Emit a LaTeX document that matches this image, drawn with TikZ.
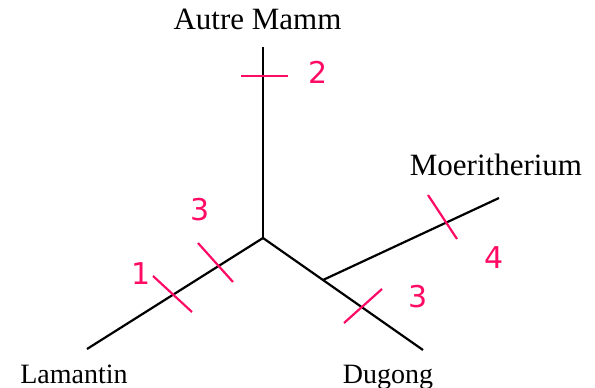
\documentclass[tikz,border=0pt]{standalone}
\usepackage{fontspec}
\setmainfont{Liberation Serif}
\newfontfamily\numfont{DejaVu Sans}
\usetikzlibrary{calc}
\definecolor{tickred}{RGB}{255,10,100}
\tikzset{
  branch/.style={line width=2.2pt, black},
  tickmark/.style={line width=2.2pt, tickred},
  leaflabel/.style={anchor=base, inner sep=0pt},
  bigleaf/.style={leaflabel, font=\fontsize{31}{36}\selectfont},
  smallleaf/.style={leaflabel, font=\fontsize{28}{33}\selectfont},
  numlabel/.style={inner sep=0pt, text=tickred, font=\numfont\fontsize{30}{35}\selectfont}
}
\begin{document}
\begin{tikzpicture}[x=1pt,y=-1pt]
\useasboundingbox (0,0) rectangle (595,388);
% tree points
\coordinate (C) at (263,238);
\coordinate (A) at (263,47);
\coordinate (L) at (87,349);
\coordinate (D) at (423,350);
\coordinate (M) at (499,198);
\coordinate (J) at ($(C)!0.375!(D)$);
% branches
\draw[branch] (A) -- (C);
\draw[branch] (L) -- (C);
\draw[branch] (C) -- (D);
\draw[branch] (J) -- (M);
% ticks
\draw[tickmark] (241,76) -- (288,76);
\draw[tickmark] (153,276) -- (192,312);
\draw[tickmark] (198,243) -- (233,282);
\draw[tickmark] (428,195) -- (457,239);
\draw[tickmark] (344,323) -- (382,289);
% leaf labels
\node[bigleaf] (tA) at (257.5,30) {Autre Mamm};
\node[bigleaf] (tM) at (496,175) {Moeritherium};
\node[smallleaf] (tL) at (74,383) {Lamantin};
\node[smallleaf] (tD) at (388,383) {Dugong};
% numbers
\node[numlabel] (n2) at (318,72) {2};
\node[numlabel] (n3a) at (200,210) {3};
\node[numlabel] (n1) at (141,274) {1};
\node[numlabel] (n4) at (494,258) {4};
\node[numlabel] (n3b) at (418,297) {3};
\end{tikzpicture}
\end{document}
